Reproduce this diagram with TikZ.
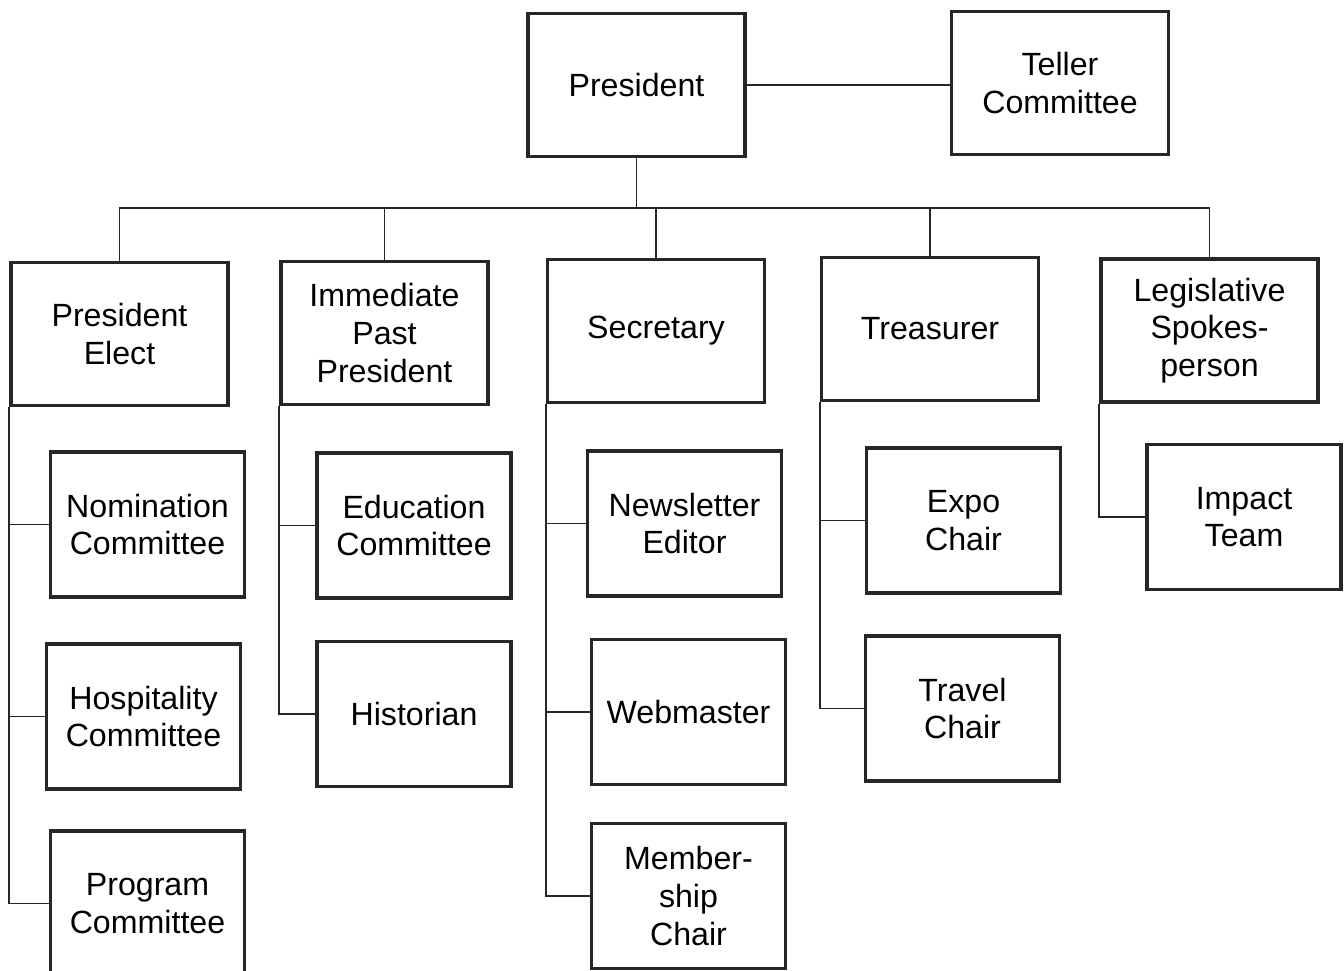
\documentclass[tikz,border=0pt]{standalone}
\usepackage{fontspec}
\setmainfont{Liberation Sans}

\begin{document}
\begin{tikzpicture}[x=0.02cm,y=-0.02cm,
   office/.style={draw=black!85,line width=2pt,align=center,inner sep=2pt,
      minimum width=4.34cm,minimum height=2.86cm,
      font=\fontsize{18.3}{21.5}\selectfont},
   post/.style={office,minimum width=3.88cm,minimum height=2.9cm},
   link/.style={draw=black!85,line width=1.1pt}]
   \useasboundingbox (0,0) rectangle (1344,970);

   % top of the chart
   \node[office] (pres)   at (636.5,85)   {President};
   \node[office] (teller) at (1060,83)    {Teller\\Committee};
   \coordinate (bus) at (636.5,208);

   % officers
   \node[office] (pe)     at (119.5,334) {President\\Elect};
   \node[office,minimum width=4.14cm] (ipp) at (384.5,333) {Immediate\\Past\\President};
   \node[office] (sec)    at (656,331)  {Secretary};
   \node[office] (treas)  at (930,329)  {Treasurer};
   \node[office] (legis)  at (1209.5,330.5) {Legislative\\Spokes-\\person};

   % committees and chairs
   \node[post] (nom)    at (147.5,524.5) {Nomination\\Committee};
   \node[post] (hosp)   at (143.5,716.5) {Hospitality\\Committee};
   \node[post] (prog)   at (147.5,903.5) {Program\\Committee};
   \node[post] (edu)    at (414,525.5)   {Education\\Committee};
   \node[post] (hist)   at (414,714)     {Historian};
   \node[post] (news)   at (684.5,523.5) {Newsletter\\Editor};
   \node[post] (web)    at (688.5,712)   {Webmaster};
   \node[post] (memb)   at (688.5,896)   {Member-\\ship\\Chair};
   \node[post] (expo)   at (963.5,520.5) {Expo\\Chair};
   \node[post] (travel) at (962.5,708.5) {Travel\\Chair};
   \node[post] (impact) at (1244,517)    {Impact\\Team};

   \draw[link] (pres) -- (pres -| teller.west);
   \draw[link] (pres) -- (bus);
   \foreach \o in {pe,ipp,sec,treas,legis}
      \draw[link] (bus) -| (\o);

   \draw[link] (pe.south west) |- (nom);
   \draw[link] (pe.south west) |- (hosp);
   \draw[link] (pe.south west) |- (prog);
   \draw[link] (ipp.south west) |- (edu);
   \draw[link] (ipp.south west) |- (hist);
   \draw[link] (sec.south west) |- (news);
   \draw[link] (sec.south west) |- (web);
   \draw[link] (sec.south west) |- (memb);
   \draw[link] (treas.south west) |- (expo);
   \draw[link] (treas.south west) |- (travel);
   \draw[link] (legis.south west) |- (impact);
\end{tikzpicture}
\end{document}
